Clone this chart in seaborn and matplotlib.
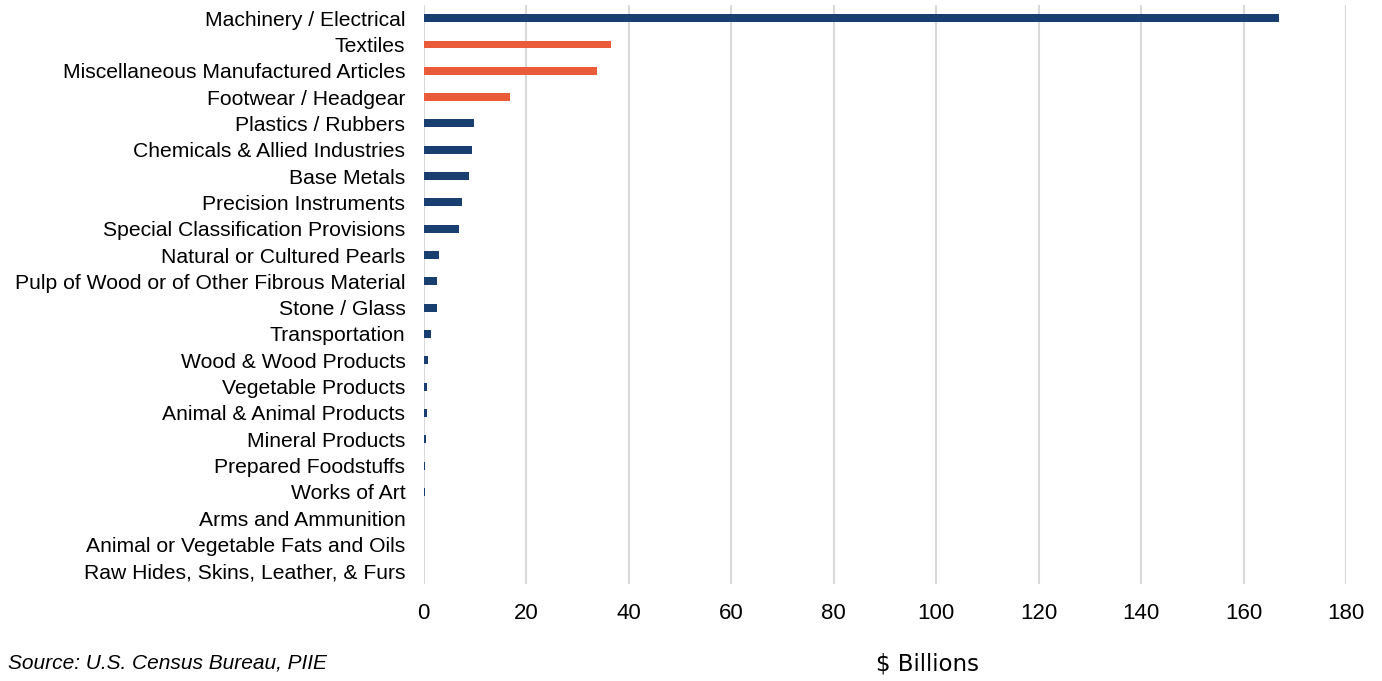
import matplotlib
matplotlib.use("Agg")
import matplotlib.pyplot as plt
import seaborn as sns
import pandas as pd

categories = [
    "Machinery / Electrical", "Textiles", "Miscellaneous Manufactured Articles",
    "Footwear / Headgear", "Plastics / Rubbers", "Chemicals & Allied Industries",
    "Base Metals", "Precision Instruments", "Special Classification Provisions",
    "Natural or Cultured Pearls", "Pulp of Wood or of Other Fibrous Material",
    "Stone / Glass", "Transportation", "Wood & Wood Products", "Vegetable Products",
    "Animal & Animal Products", "Mineral Products", "Prepared Foodstuffs",
    "Works of Art", "Arms and Ammunition", "Animal or Vegetable Fats and Oils",
    "Raw Hides, Skins, Leather, & Furs",
]
values = [166.9, 36.6, 33.9, 16.9, 9.9, 9.4, 8.9, 7.6, 7.0, 3.0, 2.7, 2.6, 1.5,
          0.95, 0.75, 0.6, 0.5, 0.35, 0.2, 0.1, 0.02, 0.01]
highlight = ["no", "yes", "yes", "yes"] + ["no"] * 18
x_ticks = [0, 20, 40, 60, 80, 100, 120, 140, 160, 180]

df = pd.DataFrame({"category": categories, "value": values, "group": highlight})

sns.set_theme(style="white")
plt.rcParams["font.family"] = ["Liberation Sans", "DejaVu Sans"]
plt.rcParams["text.color"] = "black"
plt.rcParams["xtick.color"] = "black"
plt.rcParams["ytick.color"] = "black"

fig = plt.figure(figsize=(13.82, 6.81), dpi=100)
ax = fig.add_axes([423.5 / 1382, 1 - 584 / 681, (1346 - 423.5) / 1382, (584 - 5) / 681])

sns.barplot(data=df, y="category", x="value", hue="group",
            palette={"no": "#183F70", "yes": "#EA5B3A"}, dodge=False,
            width=0.3, orient="h", ax=ax, legend=False, saturation=1,
            linewidth=0)

ax.set_xlim(0, 180)
ax.set_xticks(x_ticks)
ax.set_xticklabels([str(t) for t in x_ticks], fontsize=16)
ax.tick_params(axis="y", labelsize=15.2, length=0, pad=13)
ax.tick_params(axis="x", length=0, pad=14)
ax.grid(axis="x", color="#D9D9D9", linewidth=1.5)
ax.set_axisbelow(True)
for s in ax.spines.values():
    s.set_visible(False)
ax.set_ylabel("")
ax.set_xlabel("")
ax.set_ylim(len(categories) - 0.5, -0.5)

fig.text(928 / 1382, 1 - 664 / 681, "$ Billions", fontsize=16.5, ha="center", va="center",
         family=["DejaVu Sans"])
fig.text(8 / 1382, 1 - 663 / 681, "Source: U.S. Census Bureau, PIIE", fontsize=15,
         ha="left", va="center", style="italic")

fig.savefig("out.png", dpi=100)
